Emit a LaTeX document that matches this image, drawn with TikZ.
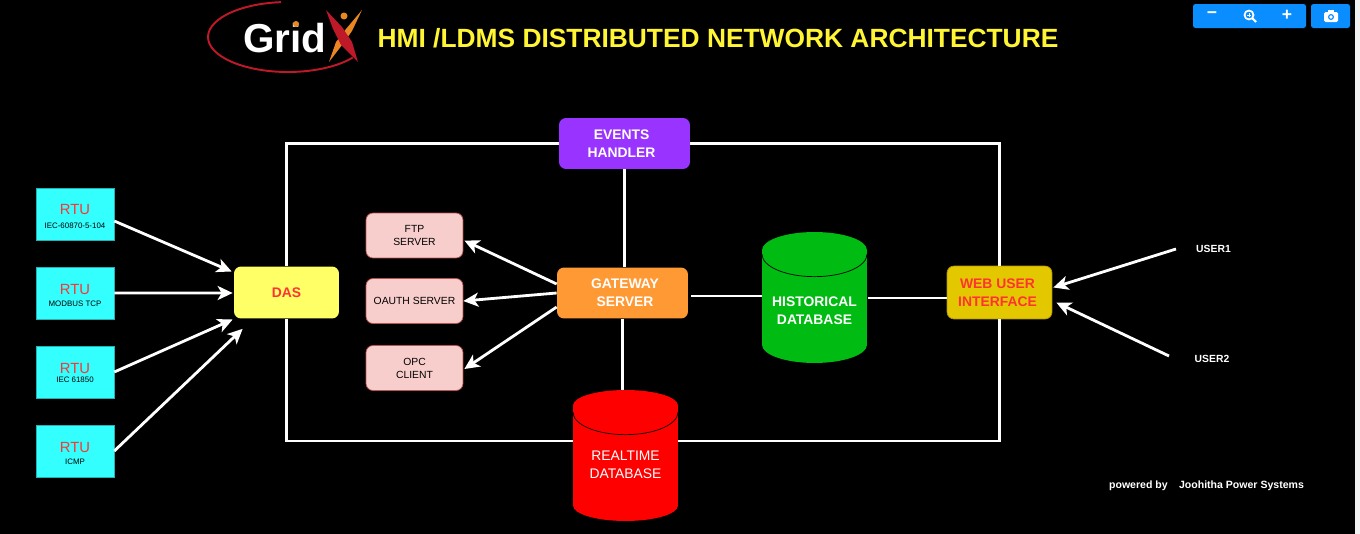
\documentclass[tikz,border=0pt]{standalone}
\usepackage{fontspec}
\usepackage{tikz}
\usepackage{xcolor}
\setmainfont{Liberation Sans}
\definecolor{rtucyan}{RGB}{51,255,255}
\definecolor{redtext}{RGB}{255,51,51}
\definecolor{dasyellow}{RGB}{255,255,102}
\definecolor{gateorange}{RGB}{255,153,51}
\definecolor{eventpurple}{RGB}{153,51,255}
\definecolor{pinkfill}{RGB}{248,206,204}
\definecolor{pinkline}{RGB}{184,84,80}
\definecolor{histgreen}{RGB}{0,187,17}
\definecolor{webgold}{RGB}{227,200,0}
\definecolor{webline}{RGB}{176,149,0}
\definecolor{btnblue}{RGB}{10,141,255}
\definecolor{logored}{RGB}{190,25,40}
\definecolor{logoorange}{RGB}{235,135,35}
\usetikzlibrary{calc,arrows.meta,shapes.geometric,positioning}

\tikzset{
    rtubox/.style={rectangle,fill=rtucyan,draw=rtucyan!70!black,line width=.3pt,minimum width=1.56cm,minimum height=1.04cm,inner sep=0pt},
    rtuname/.style={text=redtext,font=\fontsize{8.4}{9}\selectfont,inner sep=0pt},
    rtusub/.style={text=black,font=\fontsize{4.5}{5.5}\selectfont,inner sep=0pt},
    roundbox/.style={rectangle,rounded corners=.14cm,inner sep=0pt,align=center},
    pinkbox/.style={roundbox,fill=pinkfill,draw=pinkline,line width=.4pt,minimum width=1.94cm,minimum height=.9cm,font=\fontsize{5.9}{7.4}\selectfont},
    dbase/.style={cylinder,shape border rotate=90,aspect=.43,anchor=shape center,fill=#1,draw=none,inner sep=0pt,align=center,text=white,minimum width=2.1cm,minimum height=2.62cm},
    wire/.style={draw=white,line width=1.3pt},
    arrow/.style={draw=white,line width=1.6pt,-{Stealth[length=.3cm,width=.28cm,inset=.08cm]}},
    usertext/.style={text=white,font=\fontsize{5.9}{7.5}\selectfont\bfseries,inner sep=0pt},
    labelbold/.style={font=\fontsize{7.9}{10}\selectfont\bfseries},
}

\begin{document}
\begin{tikzpicture}[x=.02cm,y=-.02cm]
    \useasboundingbox (0,0) rectangle (1360,534);
    \fill[black] (0,0) rectangle (1355,534);
    \fill[black!5] (1355,0) rectangle (1360,534);

    % logo
    \draw[logored,line width=1.1pt] (288,37) ++(265:80 and 35) arc[start angle=265,end angle=36,x radius=80,y radius=35];
    \node[text=white,font=\fontsize{23}{23}\selectfont\bfseries,inner sep=0pt] (gridname) at (285,38) {Grid};
    \fill[logoorange] (362,10) -- (352,31) -- (342,45) -- (329,62) -- (336,42) -- (346,29) -- cycle;
    \fill[logored] (326,10) -- (342,27) -- (352,42) -- (358,62) -- (341,45) -- (333,29) -- cycle;
    \fill[logoorange] (344,16) circle (3.5);
    \fill[logoorange] (296,24) circle (3);

    % title
    \node[text=yellow!80!white,font=\fontsize{15}{18}\selectfont\bfseries,inner sep=0pt] (title) at (718,38) {HMI /LDMS DISTRIBUTED NETWORK ARCHITECTURE};

    % toolbar
    \fill[btnblue,rounded corners=.05cm] (1193,4) rectangle (1306,28);
    \fill[btnblue,rounded corners=.05cm] (1311,4) rectangle (1350,28);
    \node[text=white,font=\fontsize{10}{10}\selectfont\bfseries,inner sep=0pt] (zoomout) at (1212,15) {−};
    \node[text=white,font=\fontsize{10}{10}\selectfont\bfseries,inner sep=0pt] (zoomin) at (1287,15) {+};
    \draw[white,line width=1pt] (1249,15) circle (4.5);
    \draw[white,line width=.5pt] (1247,15) -- (1251,15) (1249,13) -- (1249,17);
    \draw[white,line width=1.2pt] (1252,18) -- (1256,22);
    \fill[white,rounded corners=.03cm] (1324,12) rectangle (1338,22);
    \fill[white] (1328,13) rectangle (1334,10);
    \fill[btnblue] (1331,17) circle (3);
    \fill[white] (1331,17) circle (1.8);

    % nodes
    \node[rtubox] (rtu1) at (75,214) {};
    \node[rtuname] (rtuname1) at ($(rtu1)+(0,-5)$) {RTU};
    \node[rtusub] (rtusub1) at ($(rtu1)+(0,12)$) {IEC-60870-5-104};
    \node[rtubox] (rtu2) at (75,293) {};
    \node[rtuname] (rtuname2) at ($(rtu2)+(0,-4)$) {RTU};
    \node[rtusub] (rtusub2) at ($(rtu2)+(0,11)$) {MODBUS TCP};
    \node[rtubox] (rtu3) at (75,372) {};
    \node[rtuname] (rtuname3) at ($(rtu3)+(0,-4)$) {RTU};
    \node[rtusub] (rtusub3) at ($(rtu3)+(0,8)$) {IEC 61850};
    \node[rtubox] (rtu4) at (75,451) {};
    \node[rtuname] (rtuname4) at ($(rtu4)+(0,-4)$) {RTU};
    \node[rtusub] (rtusub4) at ($(rtu4)+(0,11)$) {ICMP};
    \node[roundbox,fill=dasyellow,minimum width=2.1cm,minimum height=1.04cm,text=redtext,labelbold] (das) at (286.5,292.5) {DAS};
    \node[roundbox,fill=eventpurple,text=white,minimum width=2.62cm,minimum height=1.02cm,labelbold] (events) at (624.5,143.5) {EVENTS\hspace*{3.4pt}\\HANDLER\hspace*{3.4pt}};
    \node[roundbox,fill=gateorange,text=white,minimum width=2.62cm,minimum height=1.02cm,labelbold] (gateway) at (622.5,293) {\hspace*{2.8pt}GATEWAY\\\hspace*{2.8pt}SERVER};
    \node[pinkbox] (ftp) at (414.5,235.5) {FTP\\SERVER};
    \node[pinkbox] (oauth) at (414.5,301) {OAUTH SERVER};
    \node[pinkbox] (opc) at (414.5,368) {OPC\\CLIENT};
    \node[roundbox,fill=webgold,draw=webline,line width=.4pt,text=redtext,minimum width=2.1cm,minimum height=1.06cm,labelbold] (web) at (999.5,292.5) {WEB USER\hspace*{2.3pt}\\INTERFACE\hspace*{2.3pt}};
    \coordinate (rtleft) at (573,441);
    \coordinate (rtright) at (678,441);

    % wires
    \draw[wire] (events.west) -| (das.north);
    \draw[wire] (events.east) -| (web.north);
    \draw[wire] (das.south) |- (rtleft);
    \draw[wire] (web.south) |- (rtright);
    \draw[wire] (gateway.north -| events.south) -- (events.south);
    \draw[wire] (gateway.south) -- ++(0,75);
    \draw[wire] (691,296) -- (762,296);
    \draw[wire] (868,298) -- (web.west |- 0,298);

    % databases
    \node[dbase=histgreen,labelbold] (hist) at (814.5,297.5) {\rule{0pt}{10.2pt}HISTORICAL\\DATABASE};
    \draw[black,line width=.4pt] ($(hist.north)+(-52.5,22.5)$) arc[start angle=180,end angle=0,x radius=52.5,y radius=22.5];
    \node[dbase=red,font=\fontsize{7.9}{10}\selectfont] (realtime) at (625.5,455.5) {\rule{0pt}{6.8pt}REALTIME\\DATABASE};
    \draw[black,line width=.4pt] ($(realtime.north)+(-52.5,22.5)$) arc[start angle=180,end angle=0,x radius=52.5,y radius=22.5];

    % arrows
    \draw[arrow] ($(rtu1.east)+(0,7)$) -- ($(das.west)+(-2,-21)$);
    \draw[arrow] (rtu2.east) -- ($(das.west)+(-1,.5)$);
    \draw[arrow] (rtu3.east) -- ($(das.west)+(-1,27)$);
    \draw[arrow] (rtu4.east) -- ($(das.south west)+(9,10)$);
    \draw[arrow] ($(gateway.west)+(0,-9)$) -- ($(ftp.east)+(1,5)$);
    \draw[arrow] (gateway.west) -- (oauth.east);
    \draw[arrow] ($(gateway.west)+(0,14)$) -- ($(opc.east)+(1,1)$);
    \node[usertext] (user1) at (1213.5,248.5) {USER1};
    \node[usertext] (user2) at (1212,358.5) {USER2};
    \coordinate (user1end) at (1176,249);
    \coordinate (user2end) at (1169,356);
    \draw[arrow] (user1end) -- ($(web.east)+(1,-5)$);
    \draw[arrow] (user2end) -- ($(web.east)+(4,10)$);

    % footer
    \node[usertext,font=\fontsize{6}{7}\selectfont\bfseries] (powered) at (1206.5,485.5) {powered by\hspace{.8em} Joohitha Power Systems};
\end{tikzpicture}
\end{document}
